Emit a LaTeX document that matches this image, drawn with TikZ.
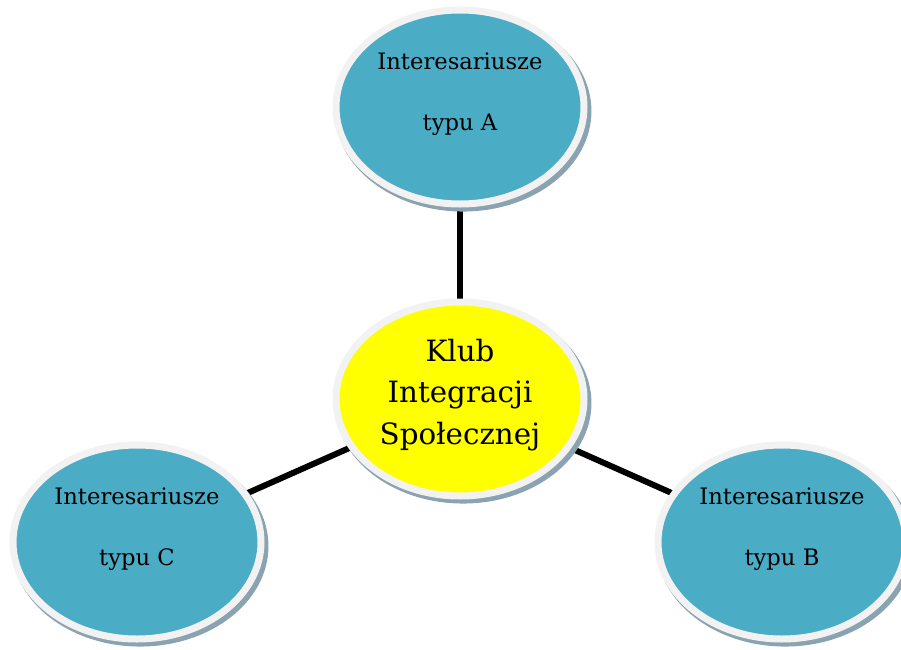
\documentclass[tikz,border=0pt]{standalone}
\usepackage{fontspec}
\setmainfont{DejaVu Serif}
\usetikzlibrary{shapes.geometric,shadows,backgrounds,positioning}

\definecolor{tealfill}{RGB}{75,172,198}
\definecolor{clubyellow}{RGB}{255,255,0}
\definecolor{ringgray}{RGB}{242,242,242}
\definecolor{shadowgray}{RGB}{138,163,176}

\tikzset{
  bubble/.style = {ellipse, draw = ringgray, line width = 5.25pt,
                   minimum width = 186pt, minimum height = 145.5pt,
                   inner sep = 0pt, outer sep = 0pt,
                   drop shadow = {shadow xshift = 2.25pt, shadow yshift = -3pt,
                                  shadow scale = 1.035, fill = shadowgray, opacity = 1}},
  group/.style = {bubble, fill = tealfill},
  club/.style = {bubble, fill = clubyellow},
  clubtext/.style = {align = center, font = \fontsize{22}{31}\selectfont},
  grouptext/.style = {align = center, font = \fontsize{17}{46}\selectfont},
  link/.style = {line width = 4.5pt, black},
}

\begin{document}
\begin{tikzpicture}[x = 0.75pt, y = -0.75pt]
            \useasboundingbox (0, 0) rectangle (901, 650);

            % Centre of the diagram
            \node[club] (club) at (460, 399) {};
            \node[clubtext] (clubname) at ([yshift = 3pt] club.center) {Klub\\Integracji\\Społecznej};

            % Stakeholder groups
            \node[group] (typeA) at (460, 107) {};
            \node[group] (typeB) at (782, 542) {};
            \node[group] (typeC) at (137, 542) {};

            % Group names
            \node[grouptext] (typeAtext) at ([yshift = 9.5pt] typeA.center) {Interesariusze\\typu A};
            \node[grouptext] (typeBtext) at ([yshift = 9.5pt] typeB.center) {Interesariusze\\typu B};
            \node[grouptext] (typeCtext) at ([yshift = 9.5pt] typeC.center) {Interesariusze\\typu C};

            % Links to the club
            \begin{scope}[on background layer]
                \draw [link] (club) -- (typeA);
                \draw [link] (club) -- (typeB);
                \draw [link] (club) -- (typeC);
            \end{scope}
        \end{tikzpicture}
\end{document}
